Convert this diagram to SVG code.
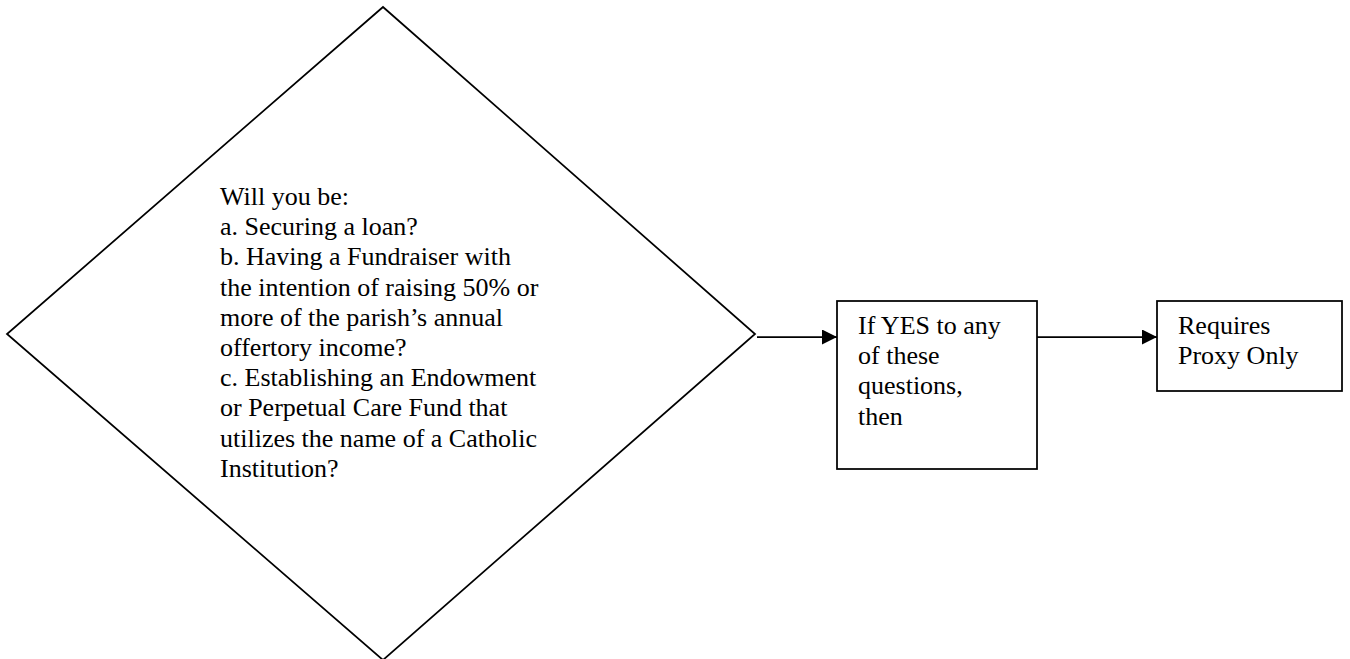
<svg xmlns="http://www.w3.org/2000/svg" width="1350" height="659" viewBox="0 0 1350 659">
<style>
.shape{fill:#fff;stroke:#000;stroke-width:1.75}
.conn{fill:none;stroke:#000;stroke-width:1.75}
text{font-family:"Liberation Serif","Times New Roman",serif;font-size:26px;fill:#000}
</style>
<defs>
<marker id="arr" markerWidth="16" markerHeight="16" refX="15" refY="7.5" orient="auto" markerUnits="userSpaceOnUse">
<path d="M0,0 L15,7.5 L0,15 Z" fill="#000"/>
</marker>
</defs>
<rect width="1350" height="659" fill="#fff"/>
<g id="decision">
<polygon class="shape" points="383,7 755,334 383,660 7,334"/>
<text>
<tspan x="220" y="205">Will you be:</tspan>
<tspan x="220" y="235.2">a. Securing a loan?</tspan>
<tspan x="220" y="265.4">b. Having a Fundraiser with</tspan>
<tspan x="220" y="295.6">the intention of raising 50% or</tspan>
<tspan x="220" y="325.8">more of the parish’s annual</tspan>
<tspan x="220" y="356">offertory income?</tspan>
<tspan x="220" y="386.2">c. Establishing an Endowment</tspan>
<tspan x="220" y="416.4">or Perpetual Care Fund that</tspan>
<tspan x="220" y="446.6">utilizes the name of a Catholic</tspan>
<tspan x="220" y="476.8">Institution?</tspan>
</text>
</g>
<g id="yes-box">
<rect class="shape" x="837" y="301" width="200" height="168"/>
<text>
<tspan x="858" y="334">If YES to any</tspan>
<tspan x="858" y="364.2">of these</tspan>
<tspan x="858" y="394.4">questions,</tspan>
<tspan x="858" y="424.6">then</tspan>
</text>
</g>
<g id="proxy-box">
<rect class="shape" x="1157" y="301" width="185" height="90"/>
<text>
<tspan x="1178" y="334">Requires</tspan>
<tspan x="1178" y="364.2">Proxy Only</tspan>
</text>
</g>
<g id="connectors">
<line class="conn" x1="757" y1="337" x2="837" y2="337" marker-end="url(#arr)"/>
<line class="conn" x1="1037" y1="337" x2="1157" y2="337" marker-end="url(#arr)"/>
</g>
</svg>
